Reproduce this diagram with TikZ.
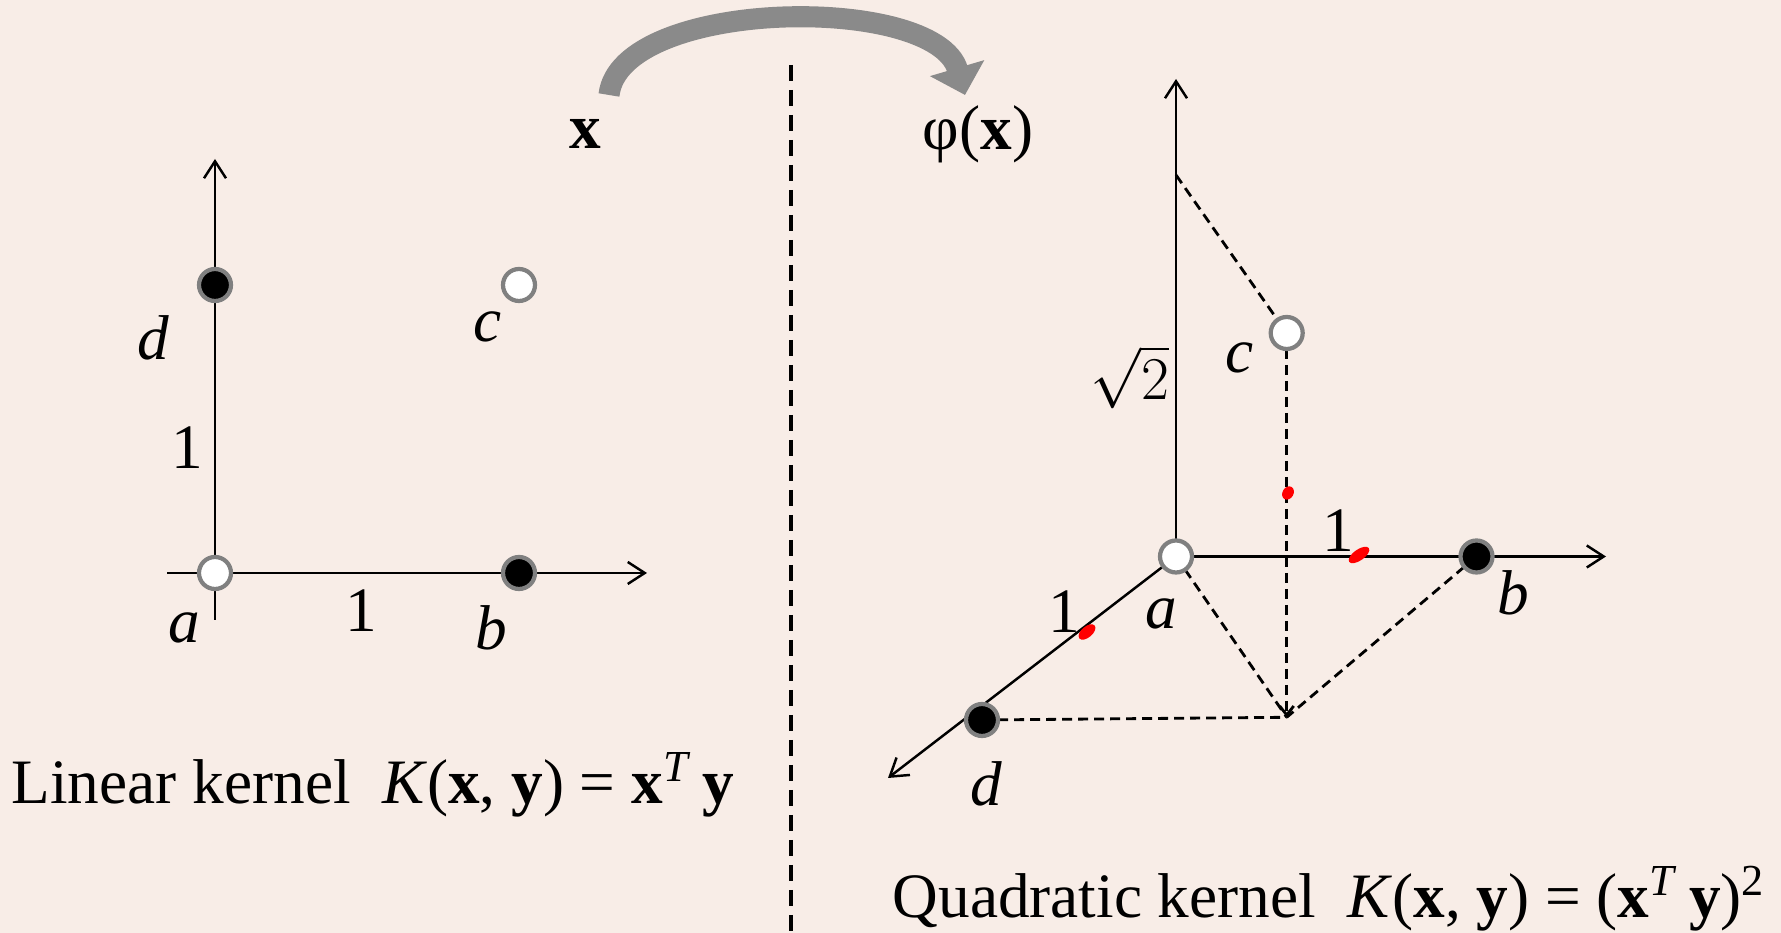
\documentclass[tikz,border=0pt]{standalone}
\usepackage{fontspec}
\setmainfont{Liberation Serif}
\usetikzlibrary{arrows.meta,calc}
\definecolor{paper}{RGB}{248,237,231}
\definecolor{dotgray}{RGB}{128,128,128}
\definecolor{bendgray}{RGB}{138,138,138}

\begin{document}
\begin{tikzpicture}[
  font=\fontsize{18}{20}\selectfont,
  axis/.style={line width=0.7pt, -{Straight Barb[length=1.7mm,width=2.2mm]}},
  guide/.style={line width=0.8pt, dash pattern=on 0.1cm off 0.06cm},
  opendot/.style={circle, draw=dotgray, line width=1.2pt, fill=white,
                  minimum size=0.32cm, inner sep=0pt},
  fulldot/.style={opendot, fill=black},
  lbl/.style={inner sep=0pt}
]
  \useasboundingbox (0,0) rectangle (17.81,9.33);
  \fill[paper] (0,0) rectangle (17.81,9.33);

  % input space
  \coordinate (la) at (2.15,3.60);
  \coordinate (lb) at (5.19,3.60);
  \coordinate (lc) at (5.19,6.48);
  \coordinate (ld) at (2.15,6.48);
  \coordinate (lxl) at (1.67,3.60);
  \coordinate (lxr) at (6.47,3.60);
  \coordinate (lyb) at (2.15,3.13);
  \coordinate (lyt) at (2.15,7.74);
  \draw[axis] (lxl) -- (lxr);
  \draw[axis] (lyb) -- (lyt);
  \node[opendot] (pa) at (la) {};
  \node[fulldot] (pb) at (lb) {};
  \node[opendot] (pc) at (lc) {};
  \node[fulldot] (pd) at (ld) {};
  \node[lbl] (tla) at (1.84,3.05) {\textit{a}};
  \node[lbl] (tlb) at (4.91,3.05) {\textit{b}};
  \node[lbl] (tlc) at (4.88,6.06) {\textit{c}};
  \node[lbl] (tld) at (1.53,5.95) {\textit{d}};
  \node[lbl] (tlx) at (3.61,3.22) {1};
  \node[lbl] (tly) at (1.87,4.85) {1};
  \node[anchor=base west, inner sep=0pt] (linK) at (0.11,1.29)
    {Linear kernel\ \ \textit{K}(\textbf{x}, \textbf{y}) = \textbf{x}\textsuperscript{\textit{T}}\,\textbf{y}};

  % separation and mapping
  \coordinate (sept) at (7.91,8.68);
  \coordinate (sepb) at (7.91,0);
  \draw[line width=1.2pt, dash pattern=on 0.16cm off 0.09cm] (sept) -- (sepb);
  \node[lbl] (xin) at (5.85,7.99) {\textbf{x}};
  \node[lbl] (xout) at (9.78,7.99) {φ(\textbf{x})};
  \coordinate (bs) at (6.09,8.38);
  \coordinate (be) at (9.65,8.38);
  \draw[bendgray, line width=6pt, -{Triangle[length=0.28cm,width=0.55cm]}]
    (bs) .. controls (6.2,9.35) and (9.35,9.4) .. (be);

  % feature space
  \coordinate (ra) at (11.76,3.765);
  \coordinate (rb) at (14.765,3.765);
  \coordinate (rc) at (12.867,6.00);
  \coordinate (rd) at (9.82,2.13);
  \coordinate (rf) at (12.867,2.157);
  \coordinate (rxr) at (16.06,3.765);
  \coordinate (ryt) at (11.76,8.54);
  \coordinate (rzt) at (8.88,1.55);
  \coordinate (rs) at (11.76,7.58);
  \draw[axis] (ra) -- (rxr);
  \draw[axis] (ra) -- (ryt);
  \draw[axis] (ra) -- (rzt);
  \draw[guide] (rs) -- (rc);
  \draw[guide, -{Straight Barb[length=0.9mm,width=1.4mm]}] (rc) -- (rf);
  \draw[guide] (ra) -- (rf);
  \draw[guide] (rb) -- (rf);
  \draw[guide] (rd) -- (rf);
  \fill[red] (10.87,3.01) ellipse [x radius=0.10cm, y radius=0.055cm, rotate=40];
  \fill[red] (13.59,3.78) ellipse [x radius=0.12cm, y radius=0.055cm, rotate=35];
  \fill[red] (12.88,4.40) ellipse [x radius=0.07cm, y radius=0.055cm, rotate=60];
  \node[opendot] (qa) at (ra) {};
  \node[fulldot] (qb) at (rb) {};
  \node[opendot] (qc) at (rc) {};
  \node[fulldot] (qd) at (rd) {};
  \node[lbl] (tra) at (11.61,3.19) {\textit{a}};
  \node[lbl] (trb) at (15.13,3.40) {\textit{b}};
  \node[lbl] (trc) at (12.40,5.75) {\textit{c}};
  \node[lbl] (trd) at (9.86,1.49) {\textit{d}};
  \node[lbl] (trx) at (13.38,4.02) {1};
  \node[lbl] (trz) at (10.64,3.21) {1};
  \node[lbl] (trs) at (11.30,5.56) {$\sqrt{2}$};
  \node[anchor=base west, inner sep=0pt] (quadK) at (8.92,0.15)
    {Quadratic kernel\ \ \textit{K}(\textbf{x}, \textbf{y}) = (\textbf{x}\textsuperscript{\textit{T}}\,\textbf{y})\textsuperscript{2}};
\end{tikzpicture}
\end{document}
